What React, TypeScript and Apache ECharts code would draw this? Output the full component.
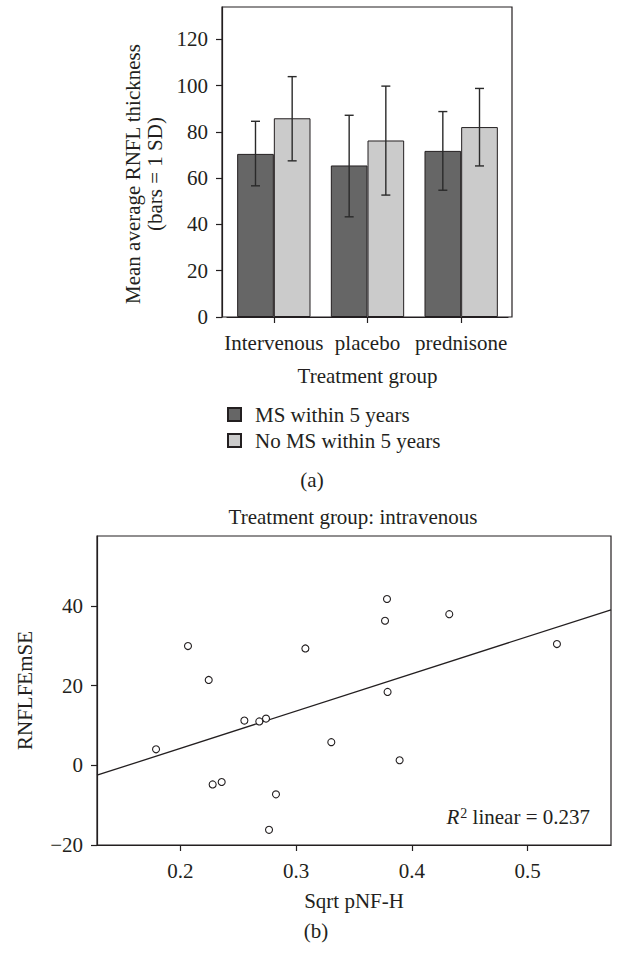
import React, { useEffect, useRef } from "react";
import * as echarts from "echarts";

const categories = ["Intervenous", "placebo", "prednisone"];
const seriesNames = ["MS within 5 years", "No MS within 5 years"];
const msMeans = [70.5, 65.5, 71.8];
const msLow = [56.7, 43.3, 54.8];
const msHigh = [84.6, 87.2, 88.8];
const noMsMeans = [85.9, 76.3, 82.1];
const noMsLow = [67.5, 52.7, 65.3];
const noMsHigh = [103.9, 99.8, 98.8];
const barTicks = [0, 20, 40, 60, 80, 100, 120];

const pnfhSqrt = [0.179, 0.2066, 0.2245, 0.2279, 0.2357, 0.2553, 0.2682, 0.274, 0.2766, 0.2826, 0.308, 0.3304, 0.3768, 0.3785, 0.379, 0.3894, 0.4323, 0.5253];
const rnflfemse = [4.0, 29.9, 21.4, -4.8, -4.2, 11.2, 11.0, 11.7, -16.2, -7.3, 29.3, 5.8, 36.25, 41.7, 18.4, 1.25, 37.9, 30.4];
const fitX = [0.128, 0.572];
const fitY = [-2.5, 39.0];
const scatterXTicks = [0.2, 0.3, 0.4, 0.5];
const scatterYTicks = [-20, 0, 20, 40];

const FONT = "Liberation Serif";
const FS = 21;
const INK = "#231f20";
const DARK = "#666666";
const LIGHT = "#cbcbcb";
const GAP = 0.217;

function errorSeries(name: string, low: number[], high: number[], side: number) {
  return {
    type: "custom",
    name: name + " SD",
    xAxisIndex: 0,
    yAxisIndex: 0,
    z: 5,
    encode: { x: 0, y: [1, 2] },
    data: low.map((l, i) => [i, l, high[i]]),
    renderItem: (params: any, api: any) => {
      const idx = api.value(0);
      const lo = api.coord([idx, api.value(1)]);
      const hi = api.coord([idx, api.value(2)]);
      const band = api.size([1, 0])[0];
      const bw = (band * (1 - GAP)) / 2;
      const cx = lo[0] + (side * bw) / 2;
      const cap = 4.5;
      const style = { stroke: "#2a2a2a", lineWidth: 1.4 };
      return {
        type: "group",
        children: [
          { type: "line", shape: { x1: cx, y1: lo[1], x2: cx, y2: hi[1] }, style },
          { type: "line", shape: { x1: cx - cap, y1: lo[1], x2: cx + cap, y2: lo[1] }, style },
          { type: "line", shape: { x1: cx - cap, y1: hi[1], x2: cx + cap, y2: hi[1] }, style },
        ],
      };
    },
  };
}

export default function App() {
  const ref = useRef<HTMLDivElement>(null);
  useEffect(() => {
    if (!ref.current) return;
    const chart = echarts.init(ref.current, null, { renderer: "svg" });
    const txt = { fontFamily: FONT, fontSize: FS, color: INK };
    const font = `${FS}px "${FONT}"`;
    const option: any = {
      animation: false,
      backgroundColor: "#ffffff",
      textStyle: { fontFamily: FONT, color: INK },
      grid: [
        { left: 227, top: 7, width: 281, height: 310, show: false, outerBoundsMode: "none", containLabel: false },
        { left: 97, top: 536, width: 514, height: 309, show: true, borderColor: INK, borderWidth: 1.2, backgroundColor: "transparent", outerBoundsMode: "none", containLabel: false },
      ],
      legend: {
        data: seriesNames,
        orient: "vertical",
        left: 222,
        top: 399,
        icon: "rect",
        itemWidth: 13,
        itemHeight: 13,
        itemGap: 5,
        textStyle: { ...txt, padding: [0, 0, 0, 9] },
      },
      xAxis: [
        {
          type: "category",
          gridIndex: 0,
          data: categories,
          boundaryGap: true,
          axisLine: { show: true, onZero: false, lineStyle: { color: INK, width: 1.2 } },
          axisTick: { show: true, alignWithLabel: true, length: 6, lineStyle: { color: INK, width: 1.2 } },
          axisLabel: { ...txt, interval: 0, margin: 15 },
          splitLine: { show: false },
          name: "Treatment group",
          nameLocation: "middle",
          nameGap: 48,
          nameTextStyle: txt,
        },
        {
          type: "value",
          gridIndex: 1,
          min: fitX[0],
          max: fitX[1],
          axisLine: { show: true, onZero: false, lineStyle: { color: INK, width: 1.2 } },
          axisTick: { show: true, length: 6, customValues: scatterXTicks, lineStyle: { color: INK, width: 1.2 } },
          axisLabel: { ...txt, margin: 15, customValues: scatterXTicks, formatter: (v: number) => v.toFixed(1) },
          splitLine: { show: false },
          name: "Sqrt pNF-H",
          nameLocation: "middle",
          nameGap: 45,
          nameTextStyle: txt,
        },
      ],
      yAxis: [
        {
          type: "value",
          gridIndex: 0,
          min: 0,
          max: 134,
          interval: 20,
          offset: 5,
          axisLine: { show: true, onZero: false, lineStyle: { color: INK, width: 1.2 } },
          axisTick: { show: true, length: 6, customValues: barTicks, lineStyle: { color: INK, width: 1.2 } },
          axisLabel: { ...txt, margin: 14, customValues: barTicks },
          splitLine: { show: false },
        },
        {
          type: "value",
          gridIndex: 1,
          min: -20,
          max: 57.5,
          axisLine: { show: true, onZero: false, lineStyle: { color: INK, width: 1.2 } },
          axisTick: { show: true, length: 6, customValues: scatterYTicks, lineStyle: { color: INK, width: 1.2 } },
          axisLabel: { ...txt, margin: 14, customValues: scatterYTicks, formatter: (v: number) => (v < 0 ? "\u2212" + Math.abs(v) : String(v)) },
          splitLine: { show: false },
          name: "RNFLFEmSE",
          nameLocation: "middle",
          nameGap: 62,
          nameTextStyle: txt,
        },
      ],
      series: [
        {
          type: "bar",
          name: seriesNames[0],
          xAxisIndex: 0,
          yAxisIndex: 0,
          data: msMeans,
          barGap: "0%",
          barCategoryGap: GAP * 100 + "%",
          itemStyle: { color: DARK, borderColor: INK, borderWidth: 1 },
        },
        {
          type: "bar",
          name: seriesNames[1],
          xAxisIndex: 0,
          yAxisIndex: 0,
          data: noMsMeans,
          barGap: "0%",
          barCategoryGap: GAP * 100 + "%",
          itemStyle: { color: LIGHT, borderColor: INK, borderWidth: 1 },
        },
        errorSeries(seriesNames[0], msLow, msHigh, -1),
        errorSeries(seriesNames[1], noMsLow, noMsHigh, 1),
        {
          type: "line",
          name: "fit",
          xAxisIndex: 1,
          yAxisIndex: 1,
          data: fitX.map((x, i) => [x, fitY[i]]),
          showSymbol: false,
          symbol: "none",
          lineStyle: { color: INK, width: 1.3 },
          z: 3,
        },
        {
          type: "scatter",
          name: "points",
          xAxisIndex: 1,
          yAxisIndex: 1,
          data: pnfhSqrt.map((x, i) => [x, rnflfemse[i]]),
          symbol: "circle",
          symbolSize: 7,
          itemStyle: { color: "#ffffff", borderColor: INK, borderWidth: 1.1, opacity: 1 },
          z: 4,
        },
      ],
      graphic: [
        {
          type: "rect",
          shape: { x: 222, y: 7, width: 290, height: 310 },
          style: { fill: "none", stroke: INK, lineWidth: 1.2 },
          z: 10,
          silent: true,
        },
        {
          type: "text",
          x: 144,
          y: 174,
          rotation: Math.PI / 2,
          style: { text: "Mean average RNFL thickness\n(bars = 1 SD)", font, fill: INK, align: "center", verticalAlign: "middle", lineHeight: 22 },
        },
        {
          type: "text",
          x: 312,
          y: 480,
          style: { text: "(a)", font, fill: INK, align: "center", verticalAlign: "middle" },
        },
        {
          type: "text",
          x: 353,
          y: 517,
          style: { text: "Treatment group: intravenous", font, fill: INK, align: "center", verticalAlign: "middle" },
        },
        {
          type: "text",
          x: 316,
          y: 931,
          style: { text: "(b)", font, fill: INK, align: "center", verticalAlign: "middle" },
        },
        {
          type: "text",
          x: 590,
          y: 817,
          style: {
            text: "{i|R}{s|2}{n| linear = 0.237}",
            align: "right",
            verticalAlign: "middle",
            rich: {
              i: { fontFamily: FONT, fontSize: FS, fontStyle: "italic", fill: INK, color: INK, lineHeight: 22 },
              s: { fontFamily: FONT, fontSize: 14, fill: INK, color: INK, verticalAlign: "top", lineHeight: 14, padding: [0, 0, 0, 1] },
              n: { fontFamily: FONT, fontSize: FS, fill: INK, color: INK, lineHeight: 22 },
            },
          },
        },
      ],
    };
    chart.setOption(option);
    return () => chart.dispose();
  }, []);
  return <div ref={ref} style={{ position: "absolute", left: 0, top: 0, width: 620, height: 953 }} />;
}
